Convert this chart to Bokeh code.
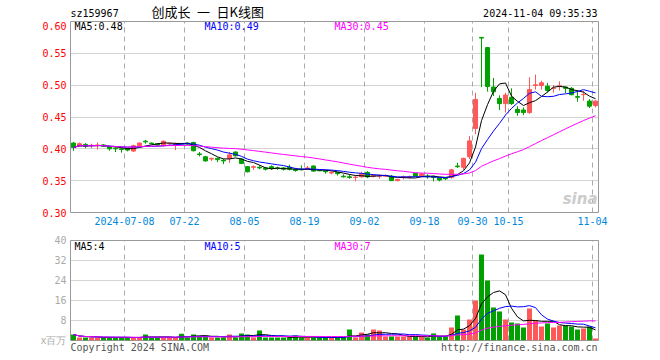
import numpy as np
import pandas as pd
from bokeh.plotting import figure
from bokeh.layouts import column
from bokeh.models import ColumnDataSource, FixedTicker, Label, Grid, Range1d, PrintfTickFormatter
from bokeh.embed import file_html
from bokeh.resources import INLINE

# ---------------- data ----------------
opens = [0.409, 0.404, 0.407, 0.405, 0.405, 0.406, 0.403, 0.401, 0.400, 0.400,
         0.3965, 0.405, 0.412, 0.409, 0.408, 0.405, 0.408, 0.407, 0.408, 0.409,
         0.410, 0.392, 0.3875, 0.384, 0.385, 0.382, 0.385, 0.395, 0.384, 0.372,
         0.371, 0.371, 0.370, 0.372, 0.370, 0.370, 0.371, 0.368, 0.368, 0.369,
         0.373, 0.3665, 0.365, 0.362, 0.363, 0.357, 0.356, 0.355, 0.356, 0.363,
         0.357, 0.357, 0.357, 0.357, 0.350, 0.355, 0.355, 0.3615, 0.357, 0.357,
         0.357, 0.354, 0.354, 0.355, 0.373, 0.371, 0.3875, 0.432, 0.575, 0.559,
         0.497, 0.479, 0.471, 0.481, 0.462, 0.461, 0.457, 0.4995, 0.4995, 0.4984,
         0.495, 0.498, 0.497, 0.495, 0.482, 0.485, 0.475, 0.468]
highs = [0.411, 0.410, 0.409, 0.408, 0.410, 0.407, 0.404, 0.402, 0.402, 0.401,
         0.4065, 0.410, 0.414, 0.410, 0.409, 0.413, 0.410, 0.410, 0.409, 0.410,
         0.411, 0.395, 0.389, 0.386, 0.386, 0.384, 0.395, 0.396, 0.385, 0.373,
         0.374, 0.374, 0.371, 0.374, 0.372, 0.371, 0.375, 0.370, 0.374, 0.373,
         0.374, 0.367, 0.366, 0.365, 0.364, 0.360, 0.360, 0.358, 0.364, 0.365,
         0.360, 0.360, 0.360, 0.359, 0.353, 0.358, 0.358, 0.362, 0.362, 0.360,
         0.358, 0.355, 0.355, 0.3685, 0.378, 0.386, 0.420, 0.488, 0.575, 0.560,
         0.5115, 0.484, 0.488, 0.495, 0.467, 0.465, 0.5125, 0.5167, 0.507, 0.5036,
         0.500, 0.506, 0.498, 0.497, 0.492, 0.491, 0.478, 0.476]
lows = [0.397, 0.403, 0.401, 0.401, 0.399, 0.403, 0.397, 0.395, 0.394, 0.396,
        0.395, 0.404, 0.408, 0.407, 0.405, 0.404, 0.406, 0.398, 0.406, 0.406,
        0.396, 0.388, 0.380, 0.381, 0.379, 0.376, 0.378, 0.388, 0.376, 0.363,
        0.367, 0.368, 0.366, 0.367, 0.367, 0.366, 0.366, 0.364, 0.366, 0.367,
        0.364, 0.365, 0.361, 0.360, 0.358, 0.355, 0.353, 0.349, 0.355, 0.354,
        0.355, 0.353, 0.356, 0.350, 0.349, 0.352, 0.353, 0.357, 0.356, 0.353,
        0.349, 0.349, 0.351, 0.353, 0.370, 0.367, 0.384, 0.423, 0.497, 0.490,
        0.483, 0.461, 0.457, 0.469, 0.452, 0.453, 0.455, 0.493, 0.493, 0.4885,
        0.4885, 0.4917, 0.4875, 0.484, 0.474, 0.4755, 0.464, 0.465]
closes = [0.402, 0.408, 0.404, 0.4055, 0.406, 0.404, 0.400, 0.400, 0.399, 0.398,
          0.405, 0.409, 0.411, 0.408, 0.406, 0.412, 0.4085, 0.408, 0.4075, 0.4075,
          0.397, 0.391, 0.381, 0.385, 0.383, 0.381, 0.3905, 0.389, 0.377, 0.364,
          0.372, 0.370, 0.368, 0.369, 0.3695, 0.368, 0.368, 0.366, 0.367, 0.370,
          0.365, 0.3655, 0.364, 0.363, 0.361, 0.356, 0.355, 0.3555, 0.361, 0.356,
          0.358, 0.358, 0.358, 0.350, 0.352, 0.356, 0.356, 0.357, 0.3605, 0.356,
          0.355, 0.351, 0.353, 0.367, 0.372, 0.385, 0.4125, 0.4775, 0.574, 0.498,
          0.4896, 0.471, 0.4844, 0.471, 0.457, 0.457, 0.493, 0.5005, 0.5036, 0.4917,
          0.4955, 0.499, 0.495, 0.485, 0.481, 0.4855, 0.467, 0.475]
volumes = [2.4, 1.2, 1.2, 1.2, 1.2, 1.2, 1.2, 1.2, 1.2, 1.2,
           1.2, 1.2, 2.4, 1.2, 1.2, 1.2, 1.2, 1.2, 2.7, 1.2,
           2.4, 1.8, 1.8, 1.2, 1.2, 1.2, 2.4, 1.2, 2.8, 2.4,
           1.2, 4.0, 1.2, 1.2, 1.2, 1.2, 1.2, 2.0, 1.2, 1.2,
           1.2, 1.2, 1.2, 1.2, 1.2, 1.2, 4.4, 1.2, 3.2, 2.4,
           4.4, 4.0, 1.6, 1.6, 1.6, 1.6, 1.6, 1.6, 1.6, 1.2,
           2.8, 1.6, 1.6, 5.2, 10.0, 4.4, 8.4, 16.0, 34.4, 24.0,
           13.2, 11.6, 8.4, 7.2, 6.8, 5.2, 12.8, 8.0, 5.6, 6.8,
           5.2, 6.0, 6.0, 5.6, 4.4, 4.8, 5.6, 0.8]

tick_idx = [9, 19, 29, 39, 49, 59, 67, 73, 87]
tick_labels = ["2024-07-08", "07-22", "08-05", "08-19", "09-02", "09-18", "09-30", "10-15", "11-04"]
price_ticks = [0.30, 0.35, 0.40, 0.45, 0.50, 0.55, 0.60]
vol_ticks = [0, 8, 16, 24, 32, 40]
vol_tick_labels = {0: "x百万"}

price_legend = ["MA5:0.48", "MA10:0.49", "MA30:0.45"]
vol_legend = ["MA5:4", "MA10:5", "MA30:7"]
footer_pos = [11.55, 74.8]
footer_text = ["Copyright 2024 SINA.COM", "http://finance.sina.com.cn"]
title_text = "创成长\u2002一\u2002日K线图"

# ---------------- styling ----------------
RED = "#ff5858"
GREEN = "#00a000"
GRID = "#aaaaaa"
BORDER = "#999999"
MONO = "DejaVu Sans Mono"
MA_COLORS = ["black", "#0000ff", "#ff00ff"]

n = len(closes)
x = np.arange(n) + 0.5
o = np.array(opens); c = np.array(closes)
colors = [RED if cc >= oo else GREEN for oo, cc in zip(o, c)]
src = ColumnDataSource(dict(x=x, open=o, close=c, high=highs, low=lows,
                            top=np.maximum(o, c), bottom=np.minimum(o, c),
                            color=colors, vol=volumes))

cs = pd.Series(closes)
vs = pd.Series(volumes)
ma_p = [cs.rolling(k, min_periods=1).mean().values for k in (5, 10, 30)]
ma_v = [vs.rolling(k, min_periods=1).mean().values for k in (5, 10, 30)]

x_range = Range1d(0, n)


def plain_axis(ax, color, standoff):
    ax.axis_line_color = None
    ax.major_tick_line_color = None
    ax.minor_tick_line_color = None
    ax.major_tick_out = 0
    ax.major_tick_in = 0
    ax.minor_tick_out = 0
    ax.minor_tick_in = 0
    ax.major_label_text_color = color
    ax.major_label_text_font = MONO
    ax.major_label_text_font_size = "10px"
    ax.major_label_standoff = standoff


# ---------------- header ----------------
h = figure(width=608, height=21, x_range=Range1d(0, 1), y_range=Range1d(0, 1),
           output_backend="svg", toolbar_location=None,
           x_axis_location=None, y_axis_location=None,
           min_border_left=70, min_border_right=10, min_border_top=0, min_border_bottom=0)
h.outline_line_color = None
h.xgrid.visible = False
h.ygrid.visible = False
h.add_layout(Label(x=0, y=8, x_units="screen", y_units="screen", text="sz159967",
                   text_color="black", text_font=MONO, text_font_size="10px",
                   text_baseline="middle"))
h.add_layout(Label(x=81, y=10, x_units="screen", y_units="screen", text=title_text,
                   text_color="black", text_font="Noto Sans CJK SC", text_font_size="13px",
                   text_baseline="middle"))
h.add_layout(Label(x=527, y=8, x_units="screen", y_units="screen", text="2024-11-04 09:35:33",
                   text_color="black", text_font=MONO, text_font_size="10px",
                   text_baseline="middle", text_align="right"))

# ---------------- price panel ----------------
p = figure(width=608, height=211, x_range=x_range, y_range=Range1d(0.30, 0.60),
           output_backend="svg", toolbar_location=None,
           min_border_left=70, min_border_right=10, min_border_top=0, min_border_bottom=20)
p.outline_line_color = BORDER
p.outline_line_width = 1

p.yaxis.ticker = FixedTicker(ticks=price_ticks)
p.yaxis.formatter = PrintfTickFormatter(format="%.2f")
plain_axis(p.yaxis[0], "#ff0000", 4)

p.xaxis.ticker = FixedTicker(ticks=tick_idx)
p.xaxis.major_label_overrides = {t: l for t, l in zip(tick_idx, tick_labels)}
plain_axis(p.xaxis[0], "#0088dd", 4)

p.ygrid.ticker = FixedTicker(ticks=price_ticks[1:-1])
p.ygrid.grid_line_color = GRID
p.ygrid.grid_line_dash = "1 1"
p.xgrid.ticker = FixedTicker(ticks=tick_idx)
p.xgrid.grid_line_color = GRID
p.xgrid.grid_line_dash = "5 4"

p.segment(x0="x", y0="low", x1="x", y1="high", line_color="color", line_width=1, source=src)
p.vbar(x="x", width=0.68, top="top", bottom="bottom", fill_color="color",
       line_color="color", line_width=1, source=src)
for m, col in zip(ma_p, MA_COLORS):
    p.line(x, m, line_color=col, line_width=1)

for txt, col, sx in zip(price_legend, MA_COLORS, [4, 134, 264]):
    p.add_layout(Label(x=sx, y=186, x_units="screen", y_units="screen", text=txt,
                       text_color=col, text_font=MONO, text_font_size="10px",
                       text_baseline="middle"))
p.add_layout(Label(x=527, y=14, x_units="screen", y_units="screen", text="sina",
                   text_color="#cccccc", text_font="DejaVu Sans", text_font_size="15px",
                   text_font_style="bold italic", text_baseline="middle", text_align="right"))

# ---------------- volume panel ----------------
v = figure(width=608, height=124, x_range=x_range, y_range=Range1d(0, 40),
           output_backend="svg", toolbar_location=None,
           min_border_left=70, min_border_right=10, min_border_top=8, min_border_bottom=16)
v.outline_line_color = BORDER
v.outline_line_width = 1
v.yaxis.ticker = FixedTicker(ticks=vol_ticks)
v.yaxis.major_label_overrides = vol_tick_labels
plain_axis(v.yaxis[0], "#aaaaaa", 4)
v.xaxis.ticker = FixedTicker(ticks=footer_pos)
v.xaxis.major_label_overrides = {t: s for t, s in zip(footer_pos, footer_text)}
plain_axis(v.xaxis[0], "#555555", 1)
v.xgrid.visible = False
v.ygrid.ticker = FixedTicker(ticks=vol_ticks[1:-1])
v.ygrid.grid_line_color = GRID
v.ygrid.grid_line_dash = "1 1"
v.add_layout(Grid(dimension=0, ticker=FixedTicker(ticks=tick_idx),
                  grid_line_color=GRID, grid_line_dash="5 4"))

v.vbar(x="x", width=0.83, top="vol", bottom=0, fill_color="color", line_color=None, source=src)
for m, col in zip(ma_v, MA_COLORS):
    v.line(x, m, line_color=col, line_width=1)

for txt, col, sx in zip(vol_legend, MA_COLORS, [4, 134, 264]):
    v.add_layout(Label(x=sx, y=94, x_units="screen", y_units="screen", text=txt,
                       text_color=col, text_font=MONO, text_font_size="10px",
                       text_baseline="middle"))

layout = column(h, p, v, spacing=0)
open("out.html", "w").write(file_html(layout, INLINE))
